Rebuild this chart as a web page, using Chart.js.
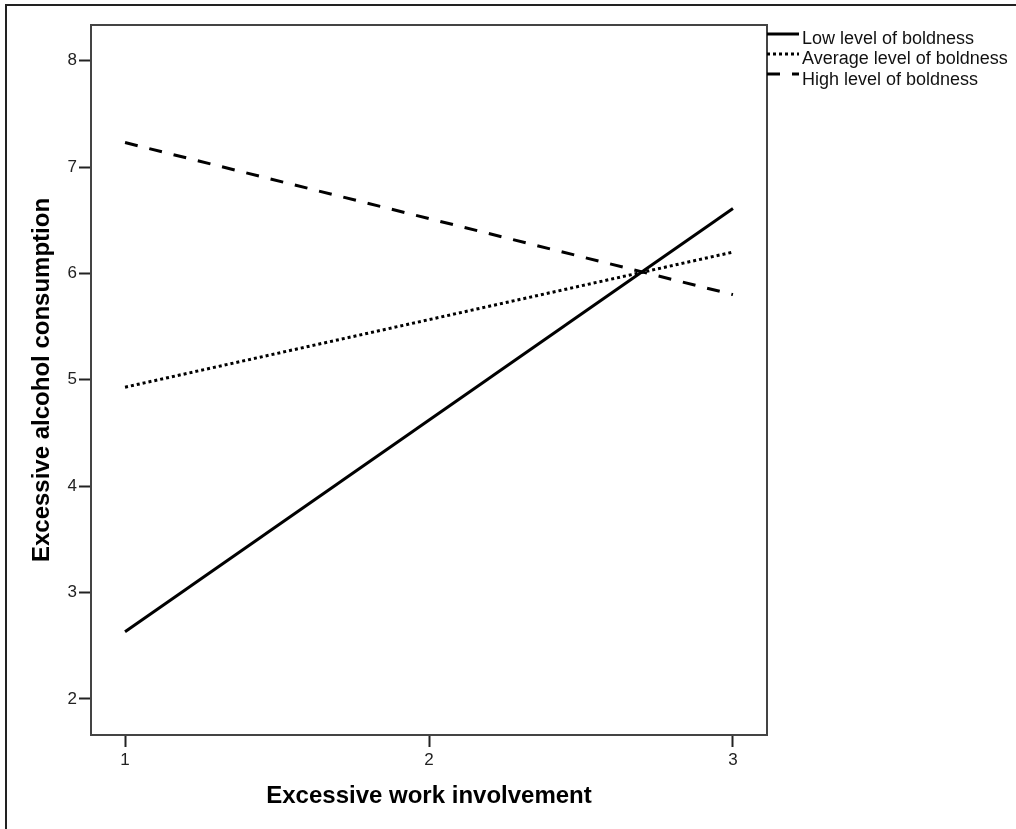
<!DOCTYPE html>
<html>
<head>
<meta charset="utf-8">
<script src="https://cdn.jsdelivr.net/npm/chart.js@4.4.1/dist/chart.umd.min.js"></script>
<style>
  html, body { margin: 0; padding: 0; background: #fff; }
  #wrap { width: 1016px; height: 829px; position: relative; }
</style>
</head>
<body>
<div id="wrap"><canvas id="chart" width="1016" height="829"></canvas></div>
<script>
// values
const workLevels = [1, 3];
const lowBoldness = [2.63, 6.61];
const avgBoldness = [4.93, 6.20];
const highBoldness = [7.23, 5.80];
const seriesNames = ['Low level of boldness', 'Average level of boldness', 'High level of boldness'];
const xTicks = [1, 2, 3];
const yTicks = [2, 3, 4, 5, 6, 7, 8];

const FONT = "'Liberation Sans', Arial, sans-serif";

function pts(vals) {
  return workLevels.map((x, i) => ({x: x, y: vals[i]}));
}

// frame round the plot, page border and the legend on the right
const framePlugin = {
  id: 'frame',
  beforeDraw(chart) {
    const ctx = chart.ctx;
    ctx.save();
    ctx.fillStyle = '#fff';
    ctx.fillRect(0, 0, chart.width, chart.height);
    ctx.fillStyle = '#222';
    ctx.fillRect(5, 4, chart.width - 5, 2);
    ctx.fillRect(5, 4, 2, chart.height - 4);
    ctx.restore();
  },
  afterDatasetsDraw(chart) {
    const ctx = chart.ctx;
    const a = chart.chartArea;
    ctx.save();
    ctx.strokeStyle = '#444';
    ctx.lineWidth = 2;
    ctx.strokeRect(a.left, a.top, a.right - a.left, a.bottom - a.top);

    // legend
    const lineY = [34, 54, 74];
    const textY = [39, 59, 80];
    chart.data.datasets.forEach((ds, i) => {
      ctx.beginPath();
      ctx.setLineDash(ds.borderDash || []);
      ctx.lineWidth = 3;
      ctx.strokeStyle = '#000';
      ctx.moveTo(a.right, lineY[i]);
      ctx.lineTo(a.right + 32, lineY[i]);
      ctx.stroke();
      ctx.setLineDash([]);
      ctx.fillStyle = '#111';
      ctx.font = '18px ' + FONT;
      ctx.textBaseline = 'middle';
      ctx.textAlign = 'left';
      ctx.fillText(ds.label, a.right + 35, textY[i]);
    });
    ctx.restore();
  }
};

new Chart(document.getElementById('chart'), {
  type: 'scatter',
  data: {
    datasets: [
      { label: seriesNames[0], data: pts(lowBoldness), showLine: true, borderColor: '#000', borderWidth: 3, pointRadius: 0 },
      { label: seriesNames[1], data: pts(avgBoldness), showLine: true, borderColor: '#000', borderWidth: 3, borderDash: [3, 3], pointRadius: 0 },
      { label: seriesNames[2], data: pts(highBoldness), showLine: true, borderColor: '#000', borderWidth: 3, borderDash: [13, 12], pointRadius: 0 }
    ]
  },
  options: {
    responsive: false,
    animation: false,
    layout: { padding: { left: 0, right: 249, top: 25, bottom: 0 } },
    plugins: {
      legend: { display: false },
      tooltip: { enabled: false }
    },
    scales: {
      x: {
        type: 'linear',
        min: 0.888,
        max: 3.112,
        afterBuildTicks(scale) { scale.ticks = xTicks.map(v => ({value: v})); },
        afterFit(scale) { scale.height = 94; },
        grid: { drawOnChartArea: false, tickLength: 12, tickWidth: 2, color: '#222' },
        border: { display: false },
        ticks: { color: '#222', font: { family: FONT, size: 17 }, padding: 3, maxRotation: 0 },
        title: {
          display: true,
          text: 'Excessive work involvement',
          color: '#000',
          font: { family: FONT, size: 24, weight: 'bold' },
          padding: { top: 0, bottom: 18 }
        }
      },
      y: {
        min: 1.66,
        max: 8.335,
        afterBuildTicks(scale) { scale.ticks = yTicks.map(v => ({value: v})); },
        afterFit(scale) { scale.width = 91; },
        grid: { drawOnChartArea: false, tickLength: 12, tickWidth: 2, color: '#222' },
        border: { display: false },
        ticks: { color: '#222', font: { family: FONT, size: 17 }, padding: 2 },
        title: {
          display: true,
          text: 'Excessive alcohol consumption',
          color: '#000',
          font: { family: FONT, size: 24, weight: 'bold' },
          padding: { top: 28, bottom: 0 }
        }
      }
    }
  },
  plugins: [framePlugin]
});
</script>
</body>
</html>
